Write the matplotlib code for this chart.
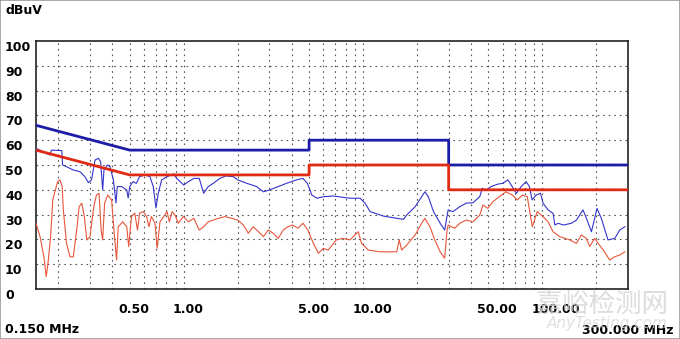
import matplotlib
matplotlib.use("Agg")
import matplotlib.pyplot as plt
from matplotlib.patches import Rectangle
from matplotlib.transforms import ScaledTranslation

# ---------------- data ----------------
limit_qp_f = [0.15, 0.5, 5, 5, 30, 30, 300]
limit_qp_v = [66, 56, 56, 60, 60, 50, 50]
limit_av_f = [0.15, 0.5, 5, 5, 30, 30, 300]
limit_av_v = [56, 46, 46, 50, 50, 40, 40]

peak_f = [0.150, 0.165, 0.179, 0.183, 0.209, 0.211, 0.222, 0.242, 0.264, 0.281,
          0.294, 0.306, 0.320, 0.334, 0.344, 0.353, 0.359, 0.375, 0.388, 0.405,
          0.419, 0.426, 0.451, 0.481, 0.490, 0.500, 0.521, 0.544, 0.567, 0.608,
          0.648, 0.676, 0.700, 0.721, 0.753, 0.807, 0.878, 0.914, 0.954, 1.00,
          1.061, 1.138, 1.22, 1.29, 1.37, 1.46, 1.59, 1.72, 1.89, 2.0,
          2.25, 2.55, 2.78, 3.0, 3.36, 3.74, 4.25, 4.62, 4.89, 5.18,
          5.52, 6.0, 6.82, 8.45, 9.62, 10.26, 10.94, 13.0, 15.4, 16.8,
          17.5, 19.5, 21.2, 22.1, 23.1, 24.7, 26.9, 28.5, 29.8, 31.7,
          34.6, 37.6, 41.0, 44.7, 46.2, 48.5, 51.7, 56.4, 60.0, 64.2,
          67.0, 71.5, 76.1, 81.1, 84.6, 87.6, 92.2, 97.5, 100.8, 107.5,
          114.6, 117.3, 122.6, 130.6, 145.0, 154.7, 168.4, 175.8, 187.6, 201.5,
          213.0, 232.0, 253.0, 270.0, 288.0]
peak_v = [56.7, 55.4, 54.0, 56.0, 55.8, 50.0, 49.3, 48.0, 47.3, 45.3,
          42.9, 44.0, 52.0, 52.7, 51.3, 39.9, 48.0, 50.0, 49.3, 44.0,
          34.7, 41.3, 41.3, 39.9, 36.7, 41.3, 43.3, 42.6, 45.3, 46.0,
          45.3, 41.3, 32.7, 38.6, 44.0, 45.3, 46.4, 44.6, 43.3, 41.9,
          43.3, 44.6, 44.6, 38.6, 41.3, 42.6, 44.6, 45.6, 45.3, 44.0,
          42.6, 41.3, 39.2, 39.9, 41.3, 42.6, 44.0, 44.6, 42.6, 37.9,
          36.6, 37.2, 37.5, 36.6, 36.6, 34.6, 31.2, 29.4, 28.5, 28.1,
          29.8, 33.2, 37.2, 39.2, 37.2, 31.2, 26.5, 23.8, 31.9, 31.2,
          33.2, 34.6, 34.8, 37.2, 40.6, 39.9, 41.3, 42.3, 42.6, 44.0,
          41.9, 38.6, 41.3, 43.3, 41.3, 35.9, 37.9, 38.6, 34.6, 31.9,
          30.5, 25.8, 26.5, 25.8, 26.5, 27.8, 31.9, 28.5, 23.1, 32.5,
          28.5, 19.8, 20.4, 23.8, 25.1]

avg_f = [0.150, 0.158, 0.166, 0.171, 0.175, 0.181, 0.186, 0.198, 0.204, 0.210,
         0.213, 0.222, 0.232, 0.242, 0.253, 0.261, 0.270, 0.279, 0.288, 0.300,
         0.315, 0.326, 0.337, 0.346, 0.353, 0.362, 0.377, 0.396, 0.408, 0.422,
         0.431, 0.457, 0.481, 0.493,
         0.511, 0.533, 0.552, 0.567, 0.595, 0.621, 0.639, 0.660, 0.691, 0.711,
         0.737, 0.773, 0.807, 0.831, 0.861, 0.894, 0.933, 0.995, 1.061, 1.138,
         1.22, 1.29, 1.37, 1.46, 1.56, 1.70, 1.85, 2.0, 2.15, 2.29,
         2.44, 2.61, 2.78, 2.96, 3.15, 3.36, 3.59, 3.81, 4.05, 4.33,
         4.62, 4.92,
         5.28, 5.64, 6.0, 6.39, 7.09,
         7.70, 8.45, 9.4, 9.8, 10.7, 12.4, 15.4, 15.9, 16.4, 17.5,
         19.5, 21.2, 22.1, 23.6, 25.1, 26.9, 28.5, 29.4, 29.8, 32.4,
         34.6, 37.6, 41.0, 44.7, 46.6, 49.6, 52.9, 57.4, 62.5, 68.0,
         72.5, 77.3, 82.3, 87.8, 93.5, 100.8, 107.5, 114.6, 124.9, 142.0,
         154.7, 164.8, 175.8, 183.4, 195.6, 208.0, 222.0, 237.0, 253.0, 270.0,
         288.0]
avg_v = [26.5, 21.1, 13.0, 5.0, 10.4, 21.1, 35.9, 43.3, 44.0, 41.3,
         31.9, 18.4, 13.0, 13.0, 23.8, 33.2, 34.6, 29.2, 19.8, 21.1,
         33.2, 37.9, 38.6, 23.8, 19.8, 34.6, 37.9, 35.9, 23.8, 11.7,
         25.1, 27.1, 25.1, 17.1,
         29.2, 30.6, 23.8, 30.6, 31.2, 29.2, 25.1, 29.2, 26.6, 16.4,
         27.1, 29.2, 31.2, 27.1, 31.2, 29.8, 26.5, 29.2, 27.1, 28.5,
         23.8, 25.1, 27.1, 27.8, 28.5, 29.2, 28.5, 27.8, 25.8, 22.5,
         25.1, 23.1, 21.1, 23.8, 22.5, 20.4, 23.8, 25.1, 25.8, 24.5,
         26.5, 23.8,
         18.4, 14.4, 16.4, 15.7, 19.8,
         20.4, 19.8, 23.1, 18.4, 15.7, 15.0, 15.0, 19.8, 15.7, 17.7,
         21.8, 26.5, 28.5, 25.1, 19.8, 15.0, 12.4, 23.8, 25.8, 24.5,
         26.5, 27.8, 27.1, 29.8, 33.9, 32.5, 35.2, 37.2, 39.2, 37.9,
         35.9, 37.9, 37.2, 25.1, 31.2, 29.2, 27.1, 23.1, 21.1, 19.8,
         18.4, 21.8, 20.4, 17.1, 20.4, 17.7, 15.0, 11.7, 13.0, 13.7,
         15.0]

y_ticks = [0, 10, 20, 30, 40, 50, 60, 70, 80, 90, 100]
x_major = [0.5, 1, 5, 10, 50, 100]
x_major_labels = ["0.50", "1.00", "5.00", "10.00", "50.00", "100.00"]
x_grid = [0.2, 0.3, 0.4, 0.5, 0.6, 0.7, 0.8, 0.9,
          1, 2, 3, 4, 5, 6, 7, 8, 9,
          10, 20, 30, 40, 50, 60, 70, 80, 90,
          100, 200]

# ---------------- figure ----------------
W, H = 680, 339
fig = plt.figure(figsize=(W / 100, H / 100), dpi=100)
ax = fig.add_axes([36 / W, (H - 289) / H, (628 - 36) / W, (289 - 41) / H])

ax.set_xscale("log")
ax.set_xlim(0.15, 300)
ax.set_ylim(0, 100)

grid_kw = dict(color="#555555", lw=0.8, ls=(0, (1.5, 3.5)), zorder=1)
for g in x_grid:
    ax.axvline(g, **grid_kw)
for t in y_ticks[1:-1]:
    ax.axhline(t, **grid_kw)

ax.plot(avg_f, avg_v, color="#e8563a", lw=0.8, zorder=3)
ax.plot(peak_f, peak_v, color="#3434cc", lw=0.8, zorder=4)
ax.plot(limit_qp_f, limit_qp_v, color="#1c1ca8", lw=2.0, zorder=5)
ax.plot(limit_av_f, limit_av_v, color="#e02a14", lw=2.0, zorder=5)

for s in ax.spines.values():
    s.set_color("#222222")
    s.set_linewidth(1.2)

fnt = dict(family="DejaVu Sans", weight="bold", size=9)

ax.set_yticks(y_ticks)
ax.set_yticklabels([str(t) for t in y_ticks], ha="left", va="top", **fnt)
ax.tick_params(axis="y", length=0, pad=31 * 0.72)

ax.xaxis.set_minor_locator(matplotlib.ticker.NullLocator())
ax.set_xticks(x_major)
ax.set_xticklabels(x_major_labels, ha="left", va="top", **fnt)
ax.tick_params(axis="x", length=0, pad=14 * 0.72)
off = ScaledTranslation(-11 / 100, 0, fig.dpi_scale_trans)
for lab in ax.get_xticklabels():
    lab.set_transform(lab.get_transform() + off)

fig.text(5 / W, 1 - 4 / H, "dBuV", ha="left", va="top", **fnt)
fig.text(5 / W, 1 - 323 / H, "0.150 MHz", ha="left", va="top", **fnt)
fig.text(674 / W, 1 - 324 / H, "300.000 MHz", ha="right", va="top", **fnt)

# watermark
fig.text(668 / W, 1 - 318 / H, "嘉峪检测网", ha="right", va="bottom",
         family=["Noto Sans CJK SC", "DejaVu Sans"], size=19, color="#d4d4d4",
         alpha=0.8, zorder=10)
fig.text(668 / W, 1 - 331 / H, "AnyTesting.com", ha="right", va="bottom",
         family="DejaVu Sans", style="italic", size=11, color="#d8d8d8",
         alpha=0.8, zorder=10)

fig.patches.append(Rectangle((0, 0), 1, 1, transform=fig.transFigure,
                             fill=False, ec="#9a9a9a", lw=1.2))

fig.savefig("out.png", dpi=100)
